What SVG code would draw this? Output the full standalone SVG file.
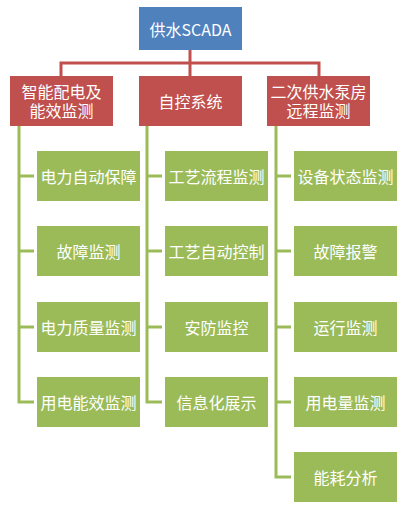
<svg xmlns="http://www.w3.org/2000/svg" width="408" height="509" viewBox="0 0 408 509">
<style>
.t{font-family:"Noto Sans CJK SC","Noto Sans",sans-serif;font-size:16px;fill:#fff;text-anchor:middle;dominant-baseline:central}
.blue{fill:#4F81BD}
.red{fill:#C0504D}
.green{fill:#9BBB59}
.rl{stroke:#C0504D;stroke-width:3;fill:none}
.gl{stroke:#9BBB59;stroke-width:3;fill:none}
</style>
<rect width="408" height="509" fill="#fff"/>
<g id="connectors">
<path class="rl" d="M190 50V63M61 76V63H319V76M190 63V76"/>
<path class="gl" d="M19 126V402H34M19 176H34M19 251H34M19 327H34"/>
<path class="gl" d="M147 126V402H162M147 176H162M147 251H162M147 327H162"/>
<path class="gl" d="M276 126V477H291M276 176H291M276 251H291M276 327H291M276 402H291"/>
</g>
<g id="root"><rect class="blue" x="139" y="7" width="103" height="43"/><text class="t" x="190.5" y="28.5">供水SCADA</text></g>
<g id="n1"><rect class="red" x="10" y="76" width="103" height="50"/><text class="t" x="61.5" y="91">智能配电及</text><text class="t" x="61.5" y="110">能效监测</text></g>
<g id="n2"><rect class="red" x="139" y="76" width="103" height="50"/><text class="t" x="190.5" y="101">自控系统</text></g>
<g id="n3"><rect class="red" x="267" y="76" width="103" height="50"/><text class="t" x="318.5" y="91">二次供水泵房</text><text class="t" x="318.5" y="110">远程监测</text></g>
<g id="a1"><rect class="green" x="37" y="151" width="103" height="50"/><text class="t" x="88.5" y="176">电力自动保障</text></g>
<g id="a2"><rect class="green" x="37" y="226" width="103" height="50"/><text class="t" x="88.5" y="251">故障监测</text></g>
<g id="a3"><rect class="green" x="37" y="302" width="103" height="50"/><text class="t" x="88.5" y="327">电力质量监测</text></g>
<g id="a4"><rect class="green" x="37" y="377" width="103" height="50"/><text class="t" x="88.5" y="402">用电能效监测</text></g>
<g id="b1"><rect class="green" x="165" y="151" width="103" height="50"/><text class="t" x="216.5" y="176">工艺流程监测</text></g>
<g id="b2"><rect class="green" x="165" y="226" width="103" height="50"/><text class="t" x="216.5" y="251">工艺自动控制</text></g>
<g id="b3"><rect class="green" x="165" y="302" width="103" height="50"/><text class="t" x="216.5" y="327">安防监控</text></g>
<g id="b4"><rect class="green" x="165" y="377" width="103" height="50"/><text class="t" x="216.5" y="402">信息化展示</text></g>
<g id="c1"><rect class="green" x="294" y="151" width="103" height="50"/><text class="t" x="345.5" y="176">设备状态监测</text></g>
<g id="c2"><rect class="green" x="294" y="226" width="103" height="50"/><text class="t" x="345.5" y="251">故障报警</text></g>
<g id="c3"><rect class="green" x="294" y="302" width="103" height="50"/><text class="t" x="345.5" y="327">运行监测</text></g>
<g id="c4"><rect class="green" x="294" y="377" width="103" height="50"/><text class="t" x="345.5" y="402">用电量监测</text></g>
<g id="c5"><rect class="green" x="294" y="452" width="103" height="50"/><text class="t" x="345.5" y="477">能耗分析</text></g>
</svg>
